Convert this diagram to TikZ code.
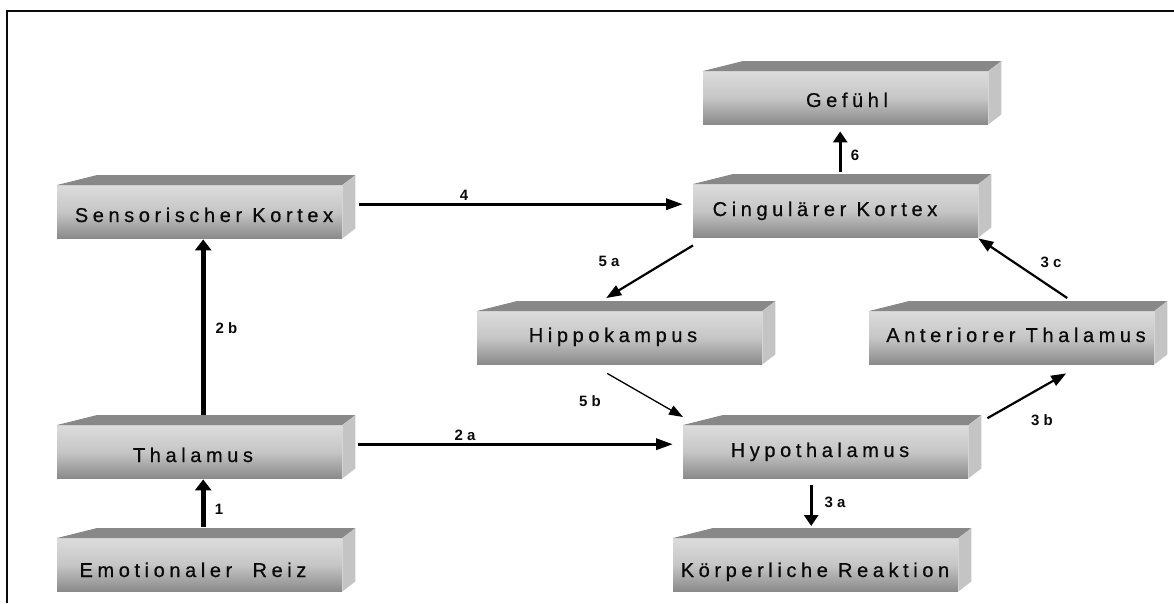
\documentclass[tikz,border=0pt]{standalone}
\usepackage{fontspec}
\setmainfont{Liberation Sans}
\newfontfamily\boxfont[LetterSpace=23,FakeBold=0.6]{Liberation Sans}
\usetikzlibrary{arrows.meta}

\definecolor{facelight}{RGB}{220,220,220}
\definecolor{facemid}{RGB}{198,198,198}
\definecolor{facedark}{RGB}{138,138,138}
\definecolor{topface}{RGB}{136,136,136}
\definecolor{sideface}{RGB}{196,196,196}
\definecolor{ink}{RGB}{10,10,10}

\tikzset{
  cube/.style={anchor=north west, minimum width=285pt, minimum height=53pt,
    inner sep=0pt, draw=none, top color=facelight, bottom color=facedark,
    middle color=facemid},
  cubetext/.style={anchor=base, inner sep=0pt, text=ink,
    font=\boxfont\fontsize{20}{24}\selectfont},
  numlabel/.style={inner sep=0pt, text=ink,
    font=\bfseries\fontsize{15}{17}\selectfont},
  heavy/.style={line width=5pt, -{Triangle[length=11pt,width=16pt]}},
  medium/.style={line width=2.8pt, -{Triangle[length=11pt,width=14pt]}},
  flat/.style={line width=3.2pt, -{Triangle[length=17pt,width=11pt]}},
  slant/.style={line width=2.2pt, -{Triangle[length=15pt,width=11pt]}},
  thin/.style={line width=1.3pt, -{Triangle[length=14pt,width=10pt]}},
}

\begin{document}
\begin{tikzpicture}[x=1pt,y=-1pt]
\useasboundingbox (0,0) rectangle (1174,603);

% outer frame (only top and left edges inside the page)
\draw[line width=2.4pt, ink] (7,603) -- (7,11) -- (1174,11);

% front faces of the boxes
\node[cube] (sens)  at (57,185)  {};
\node[cube] (gef)   at (703,71)  {};
\node[cube] (cing)  at (693,184) {};
\node[cube] (hippo) at (477,311) {};
\node[cube] (anter) at (869,311) {};
\node[cube] (thal)  at (57,425)  {};
\node[cube] (hypo)  at (683,425) {};
\node[cube] (emo)   at (57,538)  {};
\node[cube] (koerp) at (673,538) {};

% top and right faces give the boxes their depth
\foreach \b in {sens,gef,cing,hippo,anter,thal,hypo,emo,koerp}{
  \fill[topface] (\b.north west) -- ++(40,-10)
    -- ([shift={(13,-10)}]\b.north east) -- (\b.north east) -- cycle;
  \fill[sideface] (\b.north east) -- ([shift={(13,-10)}]\b.north east)
    -- ([shift={(13,-10)}]\b.south east) -- (\b.south east) -- cycle;
}

% box captions
\node[cubetext] (sens-t)  at (204,222) {Sensorischer Kortex};
\node[cubetext] (gef-t)   at (847,107) {Gefühl};
\node[cubetext] (cing-t)  at (825,216) {Cingulärer Kortex};
\node[cubetext] (hippo-t) at (613,342) {Hippokampus};
\node[cubetext] (anter-t) at (1016,342) {Anteriorer Thalamus};
\node[cubetext] (thal-t)  at (193,462) {Thalamus};
\node[cubetext] (hypo-t)  at (820,457) {Hypothalamus};
\node[cubetext] (emo-t)   at (193,577) {Emotionaler\ \ Reiz};
\node[cubetext] (koerp-t) at (815,577) {Körperliche Reaktion};

% connections
\draw[heavy]  ([shift={(3.5,-11)}]emo.north)  -- ([shift={(3.5,1)}]thal.south);
\draw[heavy]  ([shift={(3.5,-10)}]thal.north) -- ([shift={(3.5,1)}]sens.south);
\draw[flat]   ([shift={(17,-7.5)}]sens.east)  -- ([shift={(-10,-6.5)}]cing.west);
\draw[flat]   ([shift={(16,-7.5)}]thal.east)  -- ([shift={(-10,-7.5)}]hypo.west);
\draw[medium] ([shift={(4.5,-12)}]cing.north) -- ([shift={(-5.5,7)}]gef.south);
\draw[slant]  ([shift={(0,8)}]cing.south west) -- ([shift={(-13.5,-13)}]hippo.north);
\draw[thin]   ([shift={(-12.5,9)}]hippo.south) -- ([shift={(0,-8)}]hypo.north west);
\draw[medium] ([shift={(-14.5,7)}]hypo.south) -- ([shift={(-4.5,-12)}]koerp.north);
\draw[slant]  ([shift={(19,-33.5)}]hypo.east) -- ([shift={(54.5,9)}]anter.south);
\draw[slant]  ([shift={(55.5,-13)}]anter.north) -- ([shift={(0,1)}]cing.south east);

% step numbers
\node[numlabel] (n1)  at (219,509)  {1};
\node[numlabel] (n2b) at (226.5,328) {2 b};
\node[numlabel] (n4)  at (464,195)  {4};
\node[numlabel] (n2a) at (465,435)  {2 a};
\node[numlabel] (n6)  at (855,155)  {6};
\node[numlabel] (n5a) at (609,261)  {5 a};
\node[numlabel] (n5b) at (590,401)  {5 b};
\node[numlabel] (n3a) at (835,502)  {3 a};
\node[numlabel] (n3b) at (1042,420) {3 b};
\node[numlabel] (n3c) at (1051,262) {3 c};
\end{tikzpicture}
\end{document}
